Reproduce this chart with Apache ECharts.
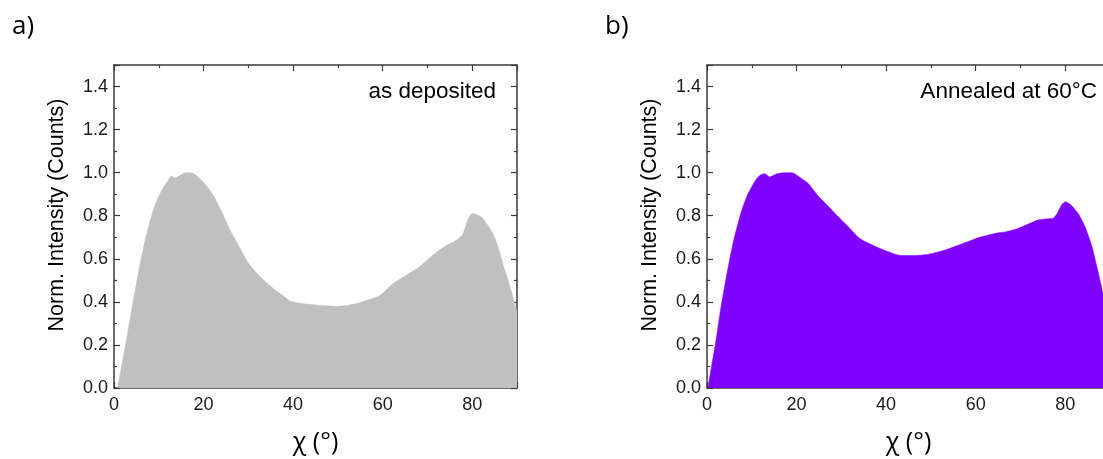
<!DOCTYPE html>
<html>
<head>
<meta charset="utf-8">
<script src="https://cdn.jsdelivr.net/npm/echarts@6/dist/echarts.min.js"></script>
<style>
  html, body { margin: 0; padding: 0; background: #fff; }
  #chart { width: 1103px; height: 459px; }
</style>
</head>
<body>
<div id="chart"></div>
<script>
// chi (deg) vs normalised intensity
const chiA = [0.8, 2, 3, 4, 5, 6, 7, 8, 9, 10, 11, 12, 12.8, 13.6, 15, 16, 17, 18.2, 19, 20, 22, 24, 26, 28, 30, 32, 34, 36, 38, 39, 40, 42, 45, 48, 50, 52, 55, 58, 59, 60, 62, 65, 68, 70, 72, 74, 76, 77.8, 79, 80, 81, 82, 83, 84, 85, 86, 87, 88, 89, 90]
const intA = [0, 0.135, 0.25, 0.37, 0.485, 0.595, 0.69, 0.77, 0.84, 0.89, 0.93, 0.96, 0.985, 0.975, 0.99, 1.0, 1.0, 0.99, 0.975, 0.955, 0.9, 0.82, 0.73, 0.655, 0.58, 0.53, 0.49, 0.455, 0.425, 0.408, 0.4, 0.392, 0.386, 0.381, 0.38, 0.383, 0.397, 0.418, 0.425, 0.44, 0.48, 0.52, 0.56, 0.595, 0.63, 0.66, 0.68, 0.71, 0.78, 0.81, 0.805, 0.795, 0.77, 0.74, 0.7, 0.64, 0.565, 0.5, 0.43, 0.355]

const chiB = [0.2, 1, 2, 3, 4, 5, 6, 7, 8, 9, 10, 11, 12, 12.9, 14, 15.6, 17.5, 19, 20.6, 22.6, 24.9, 26.8, 29.1, 31.5, 33.8, 35.3, 38.4, 41.5, 43.4, 46.1, 49.2, 53, 57, 60.9, 64.8, 66.6, 69.3, 71.6, 73.9, 75.5, 77.4, 78.2, 79.2, 80, 81.3, 82.9, 84.5, 86, 87, 88, 89, 90]
const intB = [0, 0.1, 0.22, 0.36, 0.48, 0.59, 0.69, 0.77, 0.84, 0.895, 0.935, 0.97, 0.99, 0.995, 0.98, 0.995, 1.0, 1.0, 0.98, 0.95, 0.89, 0.85, 0.8, 0.75, 0.7, 0.68, 0.65, 0.625, 0.615, 0.615, 0.62, 0.64, 0.67, 0.7, 0.72, 0.725, 0.74, 0.76, 0.78, 0.785, 0.79, 0.81, 0.85, 0.865, 0.85, 0.81, 0.745, 0.655, 0.57, 0.48, 0.38, 0.28]

const xTicks = [0, 20, 40, 60, 80]
const yTicks = [0, 0.2, 0.4, 0.6, 0.8, 1.0, 1.2, 1.4]

const panelNames = ['a)', 'b)']
const panelNotes = ['as deposited', 'Annealed at 60°C']
const fills = ['#c0c0c0', '#8000ff']

const axisColor = '#3a3a3a'
const tickFont = { fontFamily: 'Liberation Sans', fontSize: 18, color: '#1a1a1a' }

const grids = [
  { left: 114, top: 65, width: 403, height: 323, outerBoundsMode: 'none' },
  { left: 707, top: 65, width: 403, height: 323, outerBoundsMode: 'none' }
]

function xAxisFor(gi, pos) {
  return {
    type: 'value', gridIndex: gi, position: pos, min: 0, max: 90, interval: 20,
    axisLine: { show: true, onZero: false, lineStyle: { color: axisColor, width: 1.5 } },
    axisTick: { show: true, inside: true, length: 6, lineStyle: { color: axisColor, width: 1.2 } },
    minorTick: { show: true, splitNumber: 2, length: 3, lineStyle: { color: axisColor, width: 1.2 } },
    axisLabel: Object.assign({ show: pos === 'bottom', margin: 8,
      formatter: v => xTicks.includes(v) ? String(v) : '' }, tickFont),
    splitLine: { show: false }
  }
}

function yAxisFor(gi, pos) {
  return {
    type: 'value', gridIndex: gi, position: pos, min: 0, max: 1.5, interval: 0.2,
    axisLine: { show: true, onZero: false, lineStyle: { color: axisColor, width: 1.5 } },
    axisTick: { show: true, inside: true, length: 6, lineStyle: { color: axisColor, width: 1.2 } },
    minorTick: { show: true, splitNumber: 2, length: 3, lineStyle: { color: axisColor, width: 1.2 } },
    axisLabel: Object.assign({ show: pos === 'left', margin: 6,
      formatter: v => yTicks.some(t => Math.abs(t - v) < 1e-6) ? v.toFixed(1) : '' }, tickFont),
    splitLine: { show: false }
  }
}

const xAxes = [], yAxes = [], series = [], graphics = []
const sets = [[chiA, intA], [chiB, intB]]

grids.forEach((g, i) => {
  xAxes.push(xAxisFor(i, 'bottom'), xAxisFor(i, 'top'))
  yAxes.push(yAxisFor(i, 'left'), yAxisFor(i, 'right'))
  series.push({
    type: 'line',
    xAxisIndex: i * 2,
    yAxisIndex: i * 2,
    data: sets[i][0].map((x, k) => [x, sets[i][1][k]]),
    showSymbol: false,
    smooth: 0.2,
    lineStyle: { width: 0.5, color: fills[i] },
    areaStyle: { color: fills[i], opacity: 1 },
    silent: true,
    z: 1
  })
  const cx = g.left + g.width / 2
  graphics.push(
    { type: 'text', x: g.left - 102, y: 27, style: { text: panelNames[i], fontFamily: 'Open Sans', fontSize: 26, fill: '#000', align: 'left', verticalAlign: 'middle' } },
    { type: 'text', x: i === 0 ? 496 : 1097, y: 92, style: { text: panelNotes[i], fontFamily: 'Liberation Sans', fontSize: 22.5, fill: '#000', align: 'right', verticalAlign: 'middle' } },
    { type: 'text', x: g.left - 57, y: 215, rotation: Math.PI / 2, style: { text: 'Norm. Intensity (Counts)', fontFamily: 'Liberation Sans', fontSize: 21.5, fill: '#000', align: 'center', verticalAlign: 'middle' } },
    { type: 'text', x: cx, y: 443, style: { text: 'χ (°)', fontFamily: 'Open Sans', fontSize: 25, fill: '#000', align: 'center', verticalAlign: 'middle' } }
  )
})

const chart = echarts.init(document.getElementById('chart'))
chart.setOption({
  animation: false,
  backgroundColor: '#fff',
  grid: grids,
  xAxis: xAxes,
  yAxis: yAxes,
  series: series,
  graphic: graphics
})

window.addEventListener('resize', function () {
  chart.resize()
})
</script>
</body>
</html>
